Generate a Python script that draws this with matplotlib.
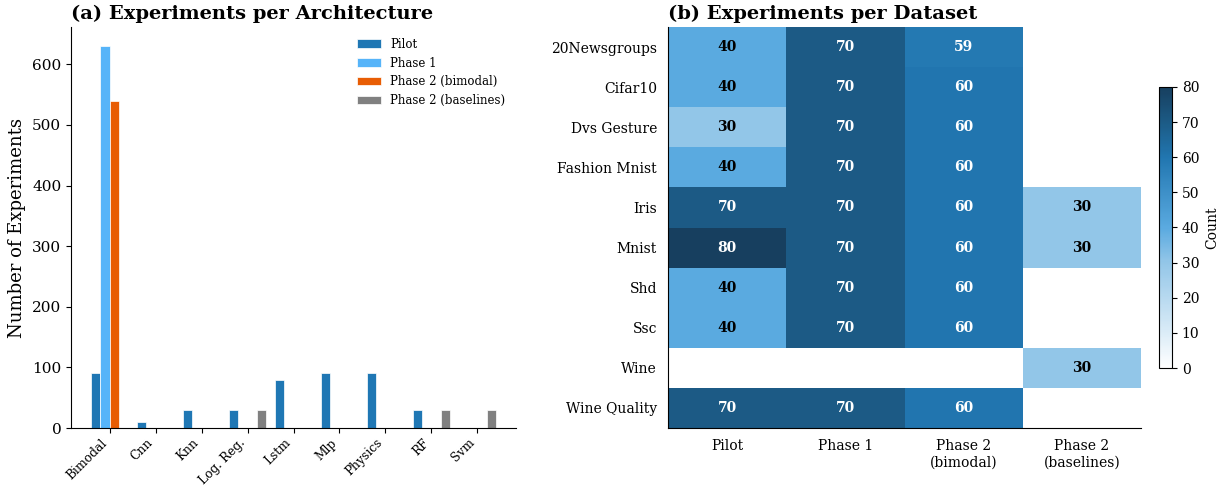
import numpy as np
import matplotlib
matplotlib.use("Agg")
import matplotlib.pyplot as plt
from matplotlib.colors import LinearSegmentedColormap

plt.rcParams['font.family'] = ['DejaVu Serif']

# ---- Data -------------------------------------------------------------
architectures = ["Bimodal", "Cnn", "Knn", "Log. Reg.", "Lstm", "Mlp",
                 "Physics", "RF", "Svm"]
phase_names = ["Pilot", "Phase 1", "Phase 2 (bimodal)", "Phase 2 (baselines)"]
pilot_arch = [90, 10, 30, 30, 80, 90, 90, 30, 0]
phase1_arch = [630, 0, 0, 0, 0, 0, 0, 0, 0]
phase2_bimodal_arch = [540, 0, 0, 0, 0, 0, 0, 0, 0]
phase2_baselines_arch = [0, 0, 0, 30, 0, 0, 0, 30, 30]

datasets = ["20Newsgroups", "Cifar10", "Dvs Gesture", "Fashion Mnist", "Iris",
            "Mnist", "Shd", "Ssc", "Wine", "Wine Quality"]
phase_labels = ["Pilot", "Phase 1", "Phase 2\n(bimodal)", "Phase 2\n(baselines)"]
pilot_ds = [40, 40, 30, 40, 70, 80, 40, 40, np.nan, 70]
phase1_ds = [70, 70, 70, 70, 70, 70, 70, 70, np.nan, 70]
phase2_bimodal_ds = [59, 60, 60, 60, 60, 60, 60, 60, np.nan, 60]
phase2_baselines_ds = [np.nan, np.nan, np.nan, np.nan, 30, 30, np.nan, np.nan, 30, np.nan]

bar_colors = ["#1f77b4", "#56b4f9", "#e85d04", "#808080"]

fig = plt.figure(figsize=(12.28, 4.86), dpi=100)

# ---- (a) grouped bars -------------------------------------------------
ax1 = fig.add_axes([71 / 1228, 1 - 428 / 486, 445 / 1228, 401 / 486])
x = np.arange(len(architectures))
width = 0.2
series = [pilot_arch, phase1_arch, phase2_bimodal_arch, phase2_baselines_arch]
for i, (vals, name, col) in enumerate(zip(series, phase_names, bar_colors)):
    ax1.bar(x + (i - 1.5) * width, vals, width, label=name, color=col,
            edgecolor="white", linewidth=0.5)
ax1.set_xticks(x)
ax1.set_xticklabels(architectures, rotation=45, ha="right", fontsize=8.8)
ax1.tick_params(axis="x", pad=2.5)
ax1.tick_params(axis="y", labelsize=11)
ax1.set_ylabel("Number of Experiments", fontsize=13)
ax1.set_title("(a) Experiments per Architecture", loc="left",
              fontsize=14, fontweight="bold", pad=6)
ax1.spines["top"].set_visible(False)
ax1.spines["right"].set_visible(False)
ax1.legend(loc="upper right", frameon=False, fontsize=8.5)

# ---- (b) heatmap ------------------------------------------------------
ax2 = fig.add_axes([668 / 1228, 1 - 428 / 486, 473 / 1228, 401 / 486])
matrix = np.column_stack([pilot_ds, phase1_ds, phase2_bimodal_ds,
                          phase2_baselines_ds])
cmap = LinearSegmentedColormap.from_list(
    "counts",
    [(0.0, "#ffffff"), (0.375, "#93c6e8"), (0.5, "#5aaae0"),
     (0.75, "#2176b0"), (0.875, "#1c5b86"), (1.0, "#173f5f")])
masked = np.ma.masked_invalid(matrix)
mesh = ax2.pcolormesh(masked, cmap=cmap, vmin=0, vmax=80)
ax2.set_xlim(0, matrix.shape[1])
ax2.set_ylim(matrix.shape[0], 0)
ax2.set_xticks(np.arange(matrix.shape[1]) + 0.5)
ax2.set_xticklabels(phase_labels, fontsize=10)
ax2.set_yticks(np.arange(matrix.shape[0]) + 0.5)
ax2.set_yticklabels(datasets, fontsize=10)
ax2.tick_params(length=0, pad=8)
ax2.spines["top"].set_visible(False)
ax2.spines["right"].set_visible(False)
for r in range(matrix.shape[0]):
    for c in range(matrix.shape[1]):
        v = matrix[r, c]
        if np.isnan(v):
            continue
        ax2.text(c + 0.5, r + 0.5, f"{int(v)}", ha="center", va="center",
                 fontsize=10, fontweight="bold",
                 color="white" if v > 50 else "black")
ax2.set_title("(b) Experiments per Dataset", loc="left",
              fontsize=14, fontweight="bold", pad=6)

cax = fig.add_axes([1159 / 1228, 1 - 368 / 486, 13 / 1228, 281 / 486])
cb = fig.colorbar(mesh, cax=cax)
cb.set_label("Count", fontsize=10)
cb.ax.tick_params(labelsize=10)

fig.savefig("out.png", dpi=100)
